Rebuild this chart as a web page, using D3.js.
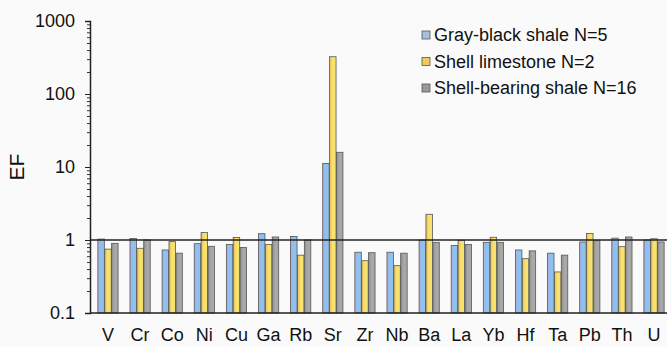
<!DOCTYPE html>
<html>
<head>
<meta charset="utf-8">
<script src="https://cdn.jsdelivr.net/npm/d3@7"></script>
<style>
  html, body { margin: 0; padding: 0; background: #fafafa; }
  svg { display: block; }
  text { font-family: "Liberation Sans", Arial, sans-serif; fill: #111; }
</style>
</head>
<body>
<svg id="chart" width="667" height="346"></svg>
<script>
// Enrichment factors (EF) of trace elements, three lithologies
const elements = ["V","Cr","Co","Ni","Cu","Ga","Rb","Sr","Zr","Nb","Ba","La","Yb","Hf","Ta","Pb","Th","U"];
const grayBlackShale = [1.03,1.05,0.73,0.89,0.87,1.22,1.12,11.2,0.68,0.68,1.0,0.84,0.93,0.73,0.66,0.94,1.06,1.0];
const shellLimestone = [0.75,0.77,0.95,1.27,1.08,0.87,0.62,324,0.52,0.445,2.25,0.99,1.09,0.555,0.365,1.23,0.81,1.04];
const shellBearingShale = [0.90,1.0,0.66,0.82,0.79,1.1,1.0,15.9,0.67,0.66,0.93,0.87,0.93,0.71,0.62,0.98,1.1,0.94];
const seriesNames = ["Gray-black shale N=5","Shell limestone N=2","Shell-bearing shale N=16"];
const yTickValues = [0.1, 1, 10, 100, 1000];
const yTickLabels = ["0.1", "1", "10", "100", "1000"];

const series = [grayBlackShale, shellLimestone, shellBearingShale];
const svg = d3.select("#chart");

// bar fills: soft horizontal gradients
const defs = svg.append("defs");
const grads = [
  ["gBlue", "#b2a9e2", "#8cc3ee"],
  ["gYellow", "#f3b45a", "#f6e36e"],
  ["gGray", "#8e8e8e", "#a8a8a8"]
];
grads.forEach(([id, c0, c1]) => {
  const g = defs.append("linearGradient").attr("id", id).attr("x1", "0").attr("x2", "1").attr("y1", "0").attr("y2", "0");
  g.append("stop").attr("offset", "0%").attr("stop-color", c0);
  g.append("stop").attr("offset", "45%").attr("stop-color", c1);
  g.append("stop").attr("offset", "100%").attr("stop-color", c1);
});
const fills = ["url(#gBlue)", "url(#gYellow)", "url(#gGray)"];
const swatch = ["#a6bfdc", "#f2c95a", "#9a9a9a"];

const x0 = d3.scaleBand().domain(elements).range([92, 670]).paddingInner(0.345).paddingOuter(0.17);
const x1 = d3.scaleBand().domain(d3.range(3)).range([0, x0.bandwidth()]).padding(0.06);
const y = d3.scaleLog().domain([0.1, 1000]).range([313, 21]);

// bars
const groups = svg.append("g").selectAll("g").data(elements).join("g")
  .attr("transform", d => `translate(${x0(d)},0)`);
groups.selectAll("rect")
  .data((d, i) => series.map((s, k) => ({ k, v: s[i] })))
  .join("rect")
  .attr("x", d => x1(d.k))
  .attr("width", x1.bandwidth())
  .attr("y", d => y(d.v))
  .attr("height", d => y(0.1) - y(d.v))
  .attr("fill", d => fills[d.k])
  .attr("stroke", "#555")
  .attr("stroke-width", 0.8);

// reference line at EF = 1 and baseline
[1, 0.1].forEach(v => {
  svg.append("line")
    .attr("x1", 90).attr("x2", 667)
    .attr("y1", y(v)).attr("y2", y(v))
    .attr("stroke", "#222").attr("stroke-width", 1.5);
});

// y axis with minor ticks
const minor = [];
for (let e = -1; e < 3; e++) for (let m = 2; m <= 9; m++) minor.push(m * Math.pow(10, e));
const yAxis = svg.append("g").attr("transform", "translate(90,0)");
yAxis.call(d3.axisLeft(y).tickValues(minor).tickSize(3).tickFormat(""));
yAxis.call(g => g.select(".domain").remove());
const yMajor = svg.append("g").attr("transform", "translate(90,0)")
  .call(d3.axisLeft(y).tickValues(yTickValues).tickSize(5).tickPadding(10)
    .tickFormat((d, i) => yTickLabels[i]));
yMajor.select(".domain").attr("stroke", "#222").attr("stroke-width", 1.5);
yAxis.selectAll("line").attr("stroke", "#333");
yMajor.selectAll("line").attr("stroke", "#222");
yMajor.selectAll("text").style("font-size", "18px").attr("fill", "#111");

// category labels
const xAxis = svg.append("g").attr("transform", "translate(0,313)")
  .call(d3.axisBottom(x0).tickSize(0).tickPadding(15));
xAxis.select(".domain").remove();
xAxis.selectAll("text").style("font-size", "18px").attr("fill", "#111");

// y title
svg.append("text")
  .attr("transform", "translate(24,167) rotate(-90)")
  .attr("text-anchor", "middle")
  .style("font-size", "21px")
  .text("EF");

// legend
const legend = svg.append("g").attr("transform", "translate(422,0)");
seriesNames.forEach((name, k) => {
  const cy = 35 + k * 26.5;
  legend.append("rect").attr("x", 0).attr("y", cy - 4).attr("width", 8).attr("height", 8)
    .attr("fill", swatch[k]).attr("stroke", "#555").attr("stroke-width", 0.8);
  legend.append("text").attr("x", 12).attr("y", cy + 6)
    .style("font-size", "18px").text(name);
});
</script>
</body>
</html>
